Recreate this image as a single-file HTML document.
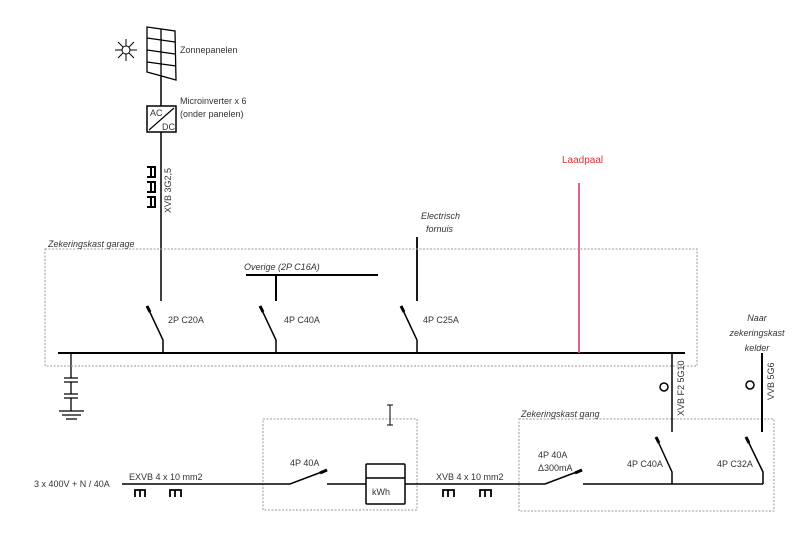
<!DOCTYPE html>
<html><head><meta charset="utf-8"><style>
html,body{margin:0;padding:0;background:#fff;width:800px;height:541px;overflow:hidden}
text{font-family:"Liberation Sans",sans-serif;font-size:9px;fill:#333}
.i{font-style:italic}
</style></head><body>
<svg width="800" height="541" viewBox="0 0 800 541" xmlns="http://www.w3.org/2000/svg">
<g fill="none" stroke="#000" stroke-width="1.5">
<!-- sun -->
<circle cx="126" cy="50" r="4" stroke-width="1"/>
<path d="M115 50h7M130 50h7M126 39v7M126 54v7M118 42l5 5M129 53l5 5M134 42l-5 5M123 53l-5 5" stroke-width="1"/>
<!-- panels -->
<path d="M147 27L175 31L176 80L147 72Z M161 29V76 M147 38L175 42 M147 50L175 54 M147 62L176 66" stroke-width="1.3"/>
<!-- inverter -->
<path d="M161 76V106"/>
<rect x="147" y="106" width="29" height="26"/>
<path d="M149 130L174 108" stroke-width="1.2"/>
<path d="M161 132V301"/>
<!-- cable symbols vertical -->
<path d="M147 167h8v10h-8 M151 167v10 M147 182h8v10h-8 M151 182v10 M147 197h8v10h-8 M151 197v10" stroke-width="2"/>
<!-- busbar -->
<path d="M58 353H685" stroke-width="2"/>
<!-- ground -->
<path d="M71 353V378M64 378h14M64 382h14M71 382V394M64 394h14M64 398h14M71 398V411" stroke-width="1.3"/>
<path d="M59 411h25M62 415h19M66 419h11" stroke-width="1.3"/>
<!-- switches garage -->
<path d="M163 353V340L147 306"/>
<path d="M276 353V340L260 306"/>
<path d="M417 353V340L401 306"/>
<path d="M147 306l3 6M260 306l3 6M401 306l3 6" stroke-width="3"/>
<path d="M276 301V275M246 275H378" stroke-width="2"/>
<path d="M417 301V237" stroke-width="1.8"/>
</g>
<path d="M579 183V353" stroke="#e05080" stroke-width="1.8"/>
<!-- dotted boxes -->
<g fill="none" stroke="#999" stroke-width="1" stroke-dasharray="2,1.5">
<rect x="45" y="249" width="652" height="117"/>
<rect x="263" y="419" width="154" height="91"/>
<rect x="519" y="419" width="255" height="92"/>
</g>
<g fill="none" stroke="#000" stroke-width="1.5">
<!-- lower line -->
<path d="M122 484H290L327 470"/>
<path d="M320 473l7 -3M575 473l7 -3" stroke-width="3"/>
<path d="M327 484H366M405 484H545L582 470"/>
<path d="M583 484H763"/>
<rect x="366" y="464" width="39" height="40" rx="1"/>
<path d="M366 478H405"/>
<!-- gang switches -->
<path d="M672 353V432"/>
<path d="M672 484V472L656 437"/>
<path d="M656 437l3 6M746 437l3 6" stroke-width="3"/>
<path d="M762 353V432" stroke-width="2"/>
<path d="M763 484V472L746 437"/>
<circle cx="664" cy="387" r="4"/>
<circle cx="750" cy="385" r="4"/>
<!-- cable symbols horizontal -->
<path d="M135 497v-7h10v7M140 490v7M170 497v-7h11v7M175 490v7 M443 497v-7h11v7M448 490v7M480 497v-7h11v7M485 490v7" stroke-width="1.8"/>
<!-- cursor -->
<path d="M390 405V425M387 405h6M387 425h6" stroke-width="1"/>
</g>
<text x="180" y="53">Zonnepanelen</text>
<text x="180" y="104">Microinverter x 6</text>
<text x="180" y="117">(onder panelen)</text>
<text x="150" y="116" font-size="8">AC</text>
<text x="162" y="130" font-size="8">DC</text>
<text transform="translate(171,213) rotate(-90)" font-size="8.5">XVB 3G2,5</text>
<text x="48" y="247" class="i">Zekeringskast garage</text>
<text x="244" y="270" class="i">Overige (2P C16A)</text>
<text x="421" y="219" class="i">Electrisch</text>
<text x="426" y="232" class="i">fornuis</text>
<text x="562" y="163" style="fill:#e53030;font-size:10px">Laadpaal</text>
<text x="168" y="323">2P C20A</text>
<text x="284" y="323">4P C40A</text>
<text x="423" y="323">4P C25A</text>
<text x="757" y="321" class="i" text-anchor="middle">Naar</text>
<text x="757" y="336" class="i" text-anchor="middle">zekeringskast</text>
<text x="757" y="351" class="i" text-anchor="middle">kelder</text>
<text transform="translate(684,416) rotate(-90)" font-size="8.5">XVB F2 5G10</text>
<text transform="translate(774,400) rotate(-90)" font-size="8.5">VVB 5G6</text>
<text x="521" y="417" class="i">Zekeringskast gang</text>
<text x="34" y="487" font-size="8.5">3 x 400V + N / 40A</text>
<text x="129" y="480" font-size="8.5">EXVB 4 x 10 mm2</text>
<text x="290" y="466" font-size="8.5">4P 40A</text>
<text x="372" y="495" font-size="8.5">kWh</text>
<text x="436" y="480" font-size="8.5">XVB 4 x 10 mm2</text>
<text x="538" y="458" font-size="8.5">4P 40A</text>
<text x="538" y="471" font-size="8.5">Δ300mA</text>
<text x="627" y="467" font-size="8.5">4P C40A</text>
<text x="717" y="467" font-size="8.5">4P C32A</text>
</svg>
</body></html>
